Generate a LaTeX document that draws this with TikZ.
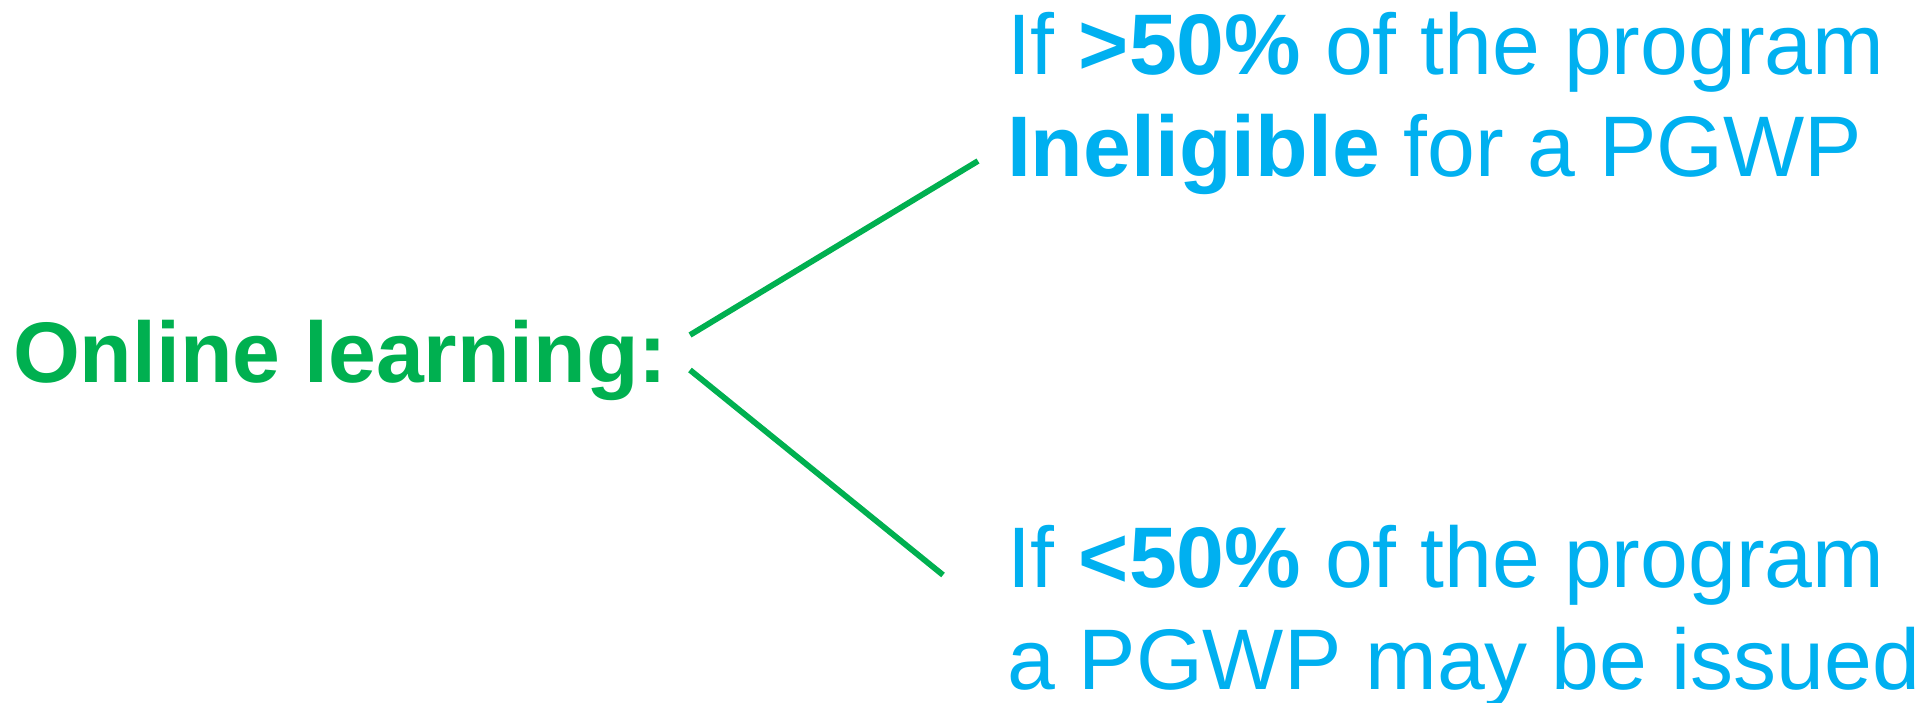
\documentclass[tikz,border=0pt]{standalone}
\usepackage{fontspec}
\setmainfont{Liberation Sans}
\definecolor{pgreen}{HTML}{00B050}
\definecolor{pblue}{HTML}{00B0F0}
\begin{document}
\begin{tikzpicture}[x=1pt,y=-1pt,
  txt/.style={anchor=base west,inner sep=0pt,outer sep=0pt,font=\fontsize{86}{102}\selectfont},
  lefttxt/.style={txt,text=pgreen,font=\fontsize{86}{102}\selectfont\bfseries},
  righttxt/.style={txt,text=pblue},
  branch/.style={draw=pgreen,line width=5.8pt,line cap=butt}]
\useasboundingbox (0,0) rectangle (1918,703);
\node[lefttxt] (online) at (13,382) {Online learning:};
\node[righttxt] (t1) at (1007,75) {If \textbf{>50\%} of the program};
\node[righttxt] (t2) at (1007,177) {\textbf{Ineligible} for a PGWP};
\node[righttxt] (b1) at (1007,587) {If \textbf{<50\%} of the program};
\node[righttxt] (b2) at (1007,689) {a PGWP may be issued};
\coordinate (us) at (690,335);
\coordinate (ue) at (978,161);
\coordinate (ls) at (690,370);
\coordinate (le) at (943,575);
\draw[branch] (us) -- (ue);
\draw[branch] (ls) -- (le);
\end{tikzpicture}
\end{document}
